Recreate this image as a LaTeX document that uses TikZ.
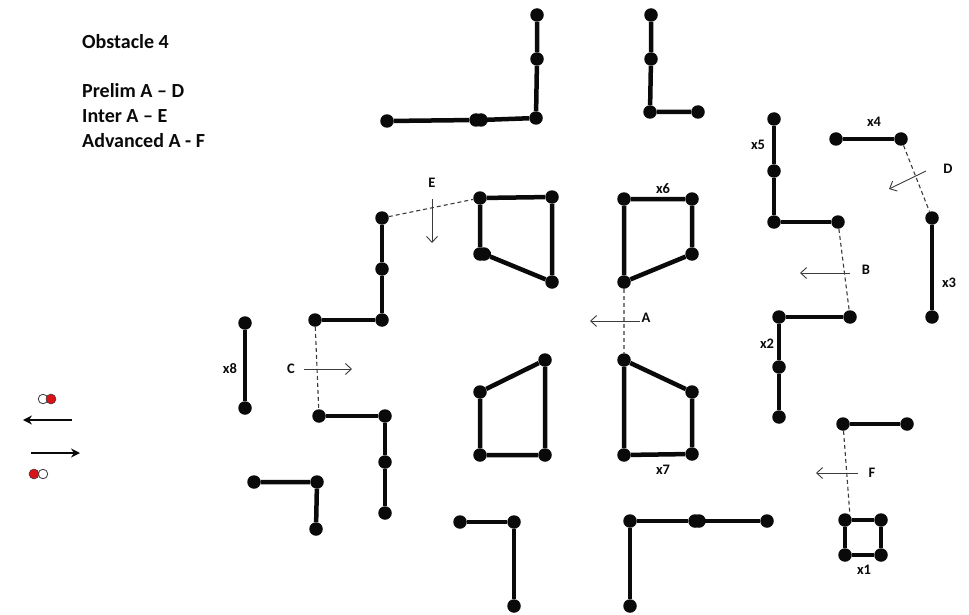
\documentclass[tikz,border=0pt]{standalone}
\usepackage{fontspec}
\setmainfont{Carlito}
\usetikzlibrary{arrows.meta}
\definecolor{ink}{HTML}{0A0A0A}
\definecolor{dkgray}{HTML}{3A3A3A}
\definecolor{midgray}{HTML}{808080}
\definecolor{legred}{HTML}{D7141A}
\tikzset{
  dot/.style={circle,fill=ink,inner sep=0pt,minimum size=13.5pt},
  wall/.style={line width=4.5pt,color=ink},
  gap/.style={dashed,dash pattern=on 4pt off 3pt,line width=1.1pt,color=dkgray},
  dirarr/.style={-{Straight Barb[length=6pt,width=11pt]},line width=0.9pt,color=dkgray},
  legarr/.style={-{Stealth[length=9pt,width=9pt]},line width=1.2pt,color=ink},
  lbl/.style={font=\fontsize{14.5}{16}\selectfont\bfseries,color=ink,inner sep=0pt},
  ttl/.style={font=\fontsize{20}{22}\selectfont\bfseries,color=ink,inner sep=0pt,anchor=west},
  legw/.style={circle,draw=dkgray,fill=white,line width=0.8pt,inner sep=0pt,minimum size=9.5pt},
  legr/.style={circle,draw=dkgray,fill=legred,line width=0.5pt,inner sep=0pt,minimum size=10pt},
}
\begin{document}
\begin{tikzpicture}[x=1pt,y=-1pt]
  \useasboundingbox (0,0) rectangle (969,615);

  %% ── title text ───────────────────────────────────────────────────────────
  \node[ttl] (t1) at (82,42)  {Obstacle 4};
  \node[ttl] (t2) at (82,91)  {Prelim A – D};
  \node[ttl] (t3) at (82,116) {Inter A – E};
  \node[ttl] (t4) at (82,141) {Advanced A - F};

  %% ── gates (dashed) ───────────────────────────────────────────────────────
  \node[dot] (n1) at (382,218) {};
  \node[dot] (p1) at (480,198) {};
  \node[dot] (q4) at (624,282) {};
  \node[dot] (s1) at (624,360) {};
  \node[dot] (c4) at (838,222) {};
  \node[dot] (f1) at (850,317) {};
  \node[dot] (d2) at (901,139) {};
  \node[dot] (e1) at (932,218) {};
  \node[dot] (n4) at (315,320) {};
  \node[dot] (k1) at (319,416) {};
  \node[dot] (g1) at (843,424) {};
  \node[dot] (h1) at (845,520) {};
  \draw[gap] (n1) -- (p1);
  \draw[gap,color=midgray] (q4) -- (s1);
  \draw[gap] (c4) -- (f1);
  \draw[gap] (d2) -- (e1);
  \draw[gap] (n4) -- (k1);
  \draw[gap] (g1) -- (h1.45);

  %% ── top walls ────────────────────────────────────────────────────────────
  \node[dot] (a1) at (537,15)  {};
  \node[dot] (a2) at (537,59)  {};
  \node[dot] (a3) at (536,118) {};
  \node[dot] (a4) at (476,120) {};
  \node[dot] (a6) at (481,120) {};
  \node[dot] (a5) at (387,121) {};
  \draw[wall] (a1) -- (a2) -- (a3) -- (a6) -- (a4) -- (a5);
  \node[dot] (b1) at (651,15)  {};
  \node[dot] (b2) at (651,59)  {};
  \node[dot] (b3) at (650,112) {};
  \node[dot] (b4) at (698,112) {};
  \draw[wall] (b1) -- (b2) -- (b3) -- (b4);

  %% ── right walls ──────────────────────────────────────────────────────────
  \node[dot] (c1) at (774,119) {};
  \node[dot] (c2) at (774,171) {};
  \node[dot] (c3) at (774,222) {};
  \draw[wall] (c1) -- (c2) -- (c3) -- (c4);
  \node[dot] (d1) at (836,139) {};
  \draw[wall] (d1) -- (d2);
  \node[dot] (e2) at (932,317) {};
  \draw[wall] (e1) -- (e2);
  \node[dot] (f2) at (779,317) {};
  \node[dot] (f3) at (779,367) {};
  \node[dot] (f4) at (779,417) {};
  \draw[wall] (f1) -- (f2) -- (f3) -- (f4);
  \node[dot] (g2) at (907,424) {};
  \draw[wall] (g1) -- (g2);
  \node[dot] (h2) at (881,520) {};
  \node[dot] (h3) at (881,555) {};
  \node[dot] (h4) at (845,555) {};
  \draw[wall] (h1) -- (h2) -- (h3) -- (h4) -- (h1);

  %% ── bottom walls ─────────────────────────────────────────────────────────
  \node[dot] (i1) at (767,521) {};
  \node[dot] (i2) at (699,521) {};
  \node[dot] (i5) at (695,521) {};
  \node[dot] (i3) at (630,521) {};
  \node[dot] (i4) at (630,606) {};
  \draw[wall] (i1) -- (i2) -- (i5) -- (i3) -- (i4);
  \node[dot] (j1) at (460,522) {};
  \node[dot] (j2) at (514,522) {};
  \node[dot] (j3) at (514,606) {};
  \draw[wall] (j1) -- (j2) -- (j3);

  %% ── left walls ───────────────────────────────────────────────────────────
  \node[dot] (k2) at (385,416) {};
  \node[dot] (k3) at (385,462) {};
  \node[dot] (k4) at (385,513) {};
  \draw[wall] (k1) -- (k2) -- (k3) -- (k4);
  \node[dot] (l1) at (254,482) {};
  \node[dot] (l2) at (317,482) {};
  \node[dot] (l3) at (316,529) {};
  \draw[wall] (l1) -- (l2) -- (l3);
  \node[dot] (m1) at (245,323) {};
  \node[dot] (m2) at (245,408) {};
  \draw[wall] (m1) -- (m2);
  \node[dot] (n2) at (382,269) {};
  \node[dot] (n3) at (382,320) {};
  \draw[wall] (n1) -- (n2) -- (n3) -- (n4);

  %% ── centre blocks ────────────────────────────────────────────────────────
  \node[dot] (p2) at (552,197) {};
  \node[dot] (p3) at (552,282) {};
  \node[dot] (p4) at (480,254) {};
  \node[dot] (p5) at (484,254) {};
  \draw[wall] (p1) -- (p2) -- (p3) -- (p5) -- (p4) -- (p1);
  \node[dot] (q1) at (624,199) {};
  \node[dot] (q2) at (692,199) {};
  \node[dot] (q3) at (692,254) {};
  \draw[wall] (q1) -- (q2) -- (q3) -- (q4) -- (q1);
  \node[dot] (r1) at (480,392) {};
  \node[dot] (r2) at (545,360) {};
  \node[dot] (r3) at (545,455) {};
  \node[dot] (r4) at (480,455) {};
  \draw[wall] (r1) -- (r2) -- (r3) -- (r4) -- (r1);
  \node[dot] (s2) at (692,392) {};
  \node[dot] (s3) at (692,454) {};
  \node[dot] (s4) at (624,455) {};
  \draw[wall] (s1) -- (s2) -- (s3) -- (s4) -- (s1);

  %% ── direction arrows ─────────────────────────────────────────────────────
  \coordinate (dirA0) at (640,321);
  \coordinate (dirA1) at (590,321);
  \coordinate (dirB0) at (850,273);
  \coordinate (dirB1) at (800,273);
  \coordinate (dirC0) at (304,369);
  \coordinate (dirC1) at (352,369);
  \coordinate (dirD0) at (926,171);
  \coordinate (dirD1) at (889,189);
  \coordinate (dirE0) at (432,199);
  \coordinate (dirE1) at (432,243);
  \coordinate (dirF0) at (858,473);
  \coordinate (dirF1) at (816,473);
  \draw[dirarr] (dirA0) -- (dirA1);
  \draw[dirarr] (dirB0) -- (dirB1);
  \draw[dirarr] (dirC0) -- (dirC1);
  \draw[dirarr] (dirD0) -- (dirD1);
  \draw[dirarr] (dirE0) -- (dirE1);
  \draw[dirarr] (dirF0) -- (dirF1);

  %% ── labels ───────────────────────────────────────────────────────────────
  \node[lbl] (lA) at (646,318) {A};
  \node[lbl] (lB) at (866,270) {B};
  \node[lbl] (lC) at (291,369) {C};
  \node[lbl] (lD) at (948,169) {D};
  \node[lbl] (lE) at (432,183) {E};
  \node[lbl] (lF) at (872,473) {F};
  \node[lbl] (x1) at (864,570) {x1};
  \node[lbl] (x2) at (767,344) {x2};
  \node[lbl] (x3) at (949,283) {x3};
  \node[lbl] (x4) at (874,122) {x4};
  \node[lbl] (x5) at (758,145) {x5};
  \node[lbl] (x6) at (663,189) {x6};
  \node[lbl] (x7) at (663,470) {x7};
  \node[lbl] (x8) at (230,369) {x8};

  %% ── legend ───────────────────────────────────────────────────────────────
  \coordinate (legL0) at (72,420);
  \coordinate (legL1) at (23,420);
  \coordinate (legR0) at (31,453);
  \coordinate (legR1) at (80,453);
  \draw[legarr] (legL0) -- (legL1);
  \draw[legarr] (legR0) -- (legR1);
  \node[legw] (legw1) at (43,399) {};
  \node[legr] (legr1) at (51,399) {};
  \node[legw] (legw2) at (43,474) {};
  \node[legr] (legr2) at (34,474) {};

\end{tikzpicture}
\end{document}
